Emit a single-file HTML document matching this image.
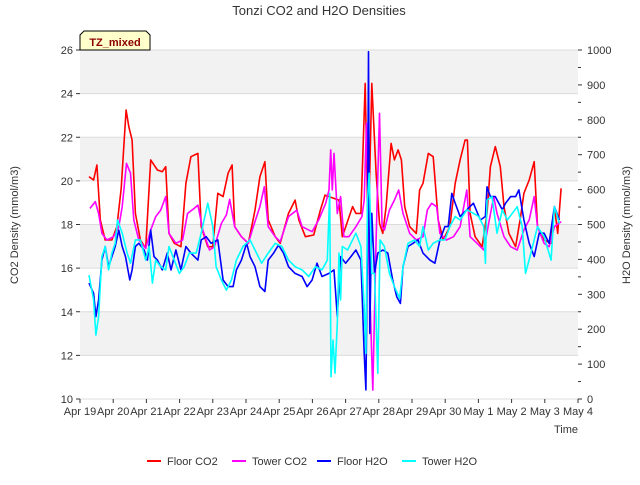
<!DOCTYPE html>
<html><head><meta charset="utf-8"><style>
body{margin:0;background:#fff;font-family:"Liberation Sans","DejaVu Sans",sans-serif}
</style></head><body>
<svg id="chart" width="640" height="480" xmlns="http://www.w3.org/2000/svg" font-family="Liberation Sans, DejaVu Sans, sans-serif">
<rect width="640" height="480" fill="#fff"/>
<g id="bands"></g><g id="grid"></g><g id="series"></g><g id="axes"></g>
<text x="319" y="15" text-anchor="middle" font-size="13" fill="#333">Tonzi CO2 and H2O Densities</text>
<text x="566" y="433" text-anchor="middle" font-size="11" fill="#333">Time</text>
<text transform="translate(18,225) rotate(-90)" text-anchor="middle" font-size="11" fill="#333">CO2 Density (mmol/m3)</text>
<text transform="translate(630,225) rotate(-90)" text-anchor="middle" font-size="11" fill="#333">H2O Density (mmol/m3)</text>
<g>
<path d="M80,50 L80,35 L84,31 L146,31 L150,35 L150,50 Z" fill="#ffffcc" stroke="#000" stroke-width="1"/>
<text x="115" y="46" text-anchor="middle" font-size="11" font-weight="bold" fill="#8b0000">TZ_mixed</text>
</g>
<g id="legend"></g>
</svg>
<script>
const xTickLabels=["Apr 19","Apr 20","Apr 21","Apr 22","Apr 23","Apr 24","Apr 25","Apr 26","Apr 27","Apr 28","Apr 29","Apr 30","May 1","May 2","May 3","May 4"];
const co2Ticks=[10,12,14,16,18,20,22,24,26];
const h2oTicks=[0,100,200,300,400,500,600,700,800,900,1000];
const floorCO2Days=[0.27,0.41,0.51,0.61,0.76,0.96,1.11,1.24,1.39,1.47,1.57,1.67,1.82,1.98,2.13,2.33,2.48,2.58,2.68,2.84,3.04,3.19,3.34,3.55,3.65,3.85,4.0,4.15,4.31,4.46,4.58,4.66,4.86,5.07,5.27,5.42,5.57,5.67,5.88,6.03,6.28,6.48,6.59,6.79,7.04,7.24,7.38,7.5,7.8,7.9,8.21,8.31,8.46,8.59,8.68,8.79,8.92,9.02,9.12,9.22,9.37,9.47,9.58,9.68,9.78,9.93,10.13,10.23,10.33,10.49,10.64,10.79,10.94,11.14,11.3,11.45,11.6,11.67,11.75,11.9,12.11,12.26,12.36,12.51,12.66,12.77,12.92,13.12,13.27,13.37,13.53,13.68,13.78,13.98,14.19,14.29,14.39,14.49];
const floorCO2=[20.19,20.04,20.73,18.21,17.29,17.29,17.9,19.66,23.25,22.49,21.87,18.51,17.29,16.91,20.96,20.5,20.42,20.65,17.59,17.14,16.98,19.89,21.11,21.26,17.9,16.98,16.98,19.43,19.28,20.35,20.73,17.9,17.44,17.14,18.66,20.19,20.88,18.21,17.44,17.14,18.51,19.12,18.21,17.44,17.52,18.66,19.35,19.28,19.12,17.44,18.82,18.51,18.51,24.47,17.29,24.47,20.35,18.05,17.59,18.82,21.72,20.96,21.42,20.96,18.82,17.9,17.59,19.58,19.89,21.26,21.11,18.21,17.29,17.9,19.89,20.96,21.87,21.87,18.51,17.44,16.98,18.51,20.65,21.57,20.65,18.82,17.59,16.98,18.36,19.43,20.04,20.88,17.9,17.29,17.14,18.82,17.59,19.66];
const towerCO2Days=[0.3,0.46,0.56,0.66,0.81,1.01,1.17,1.27,1.4,1.52,1.62,1.77,1.98,2.13,2.28,2.43,2.58,2.68,2.89,3.09,3.24,3.44,3.55,3.7,3.9,4.05,4.26,4.41,4.51,4.66,4.86,5.07,5.22,5.42,5.55,5.67,5.88,6.03,6.28,6.53,6.69,6.99,7.19,7.4,7.5,7.55,7.6,7.65,7.75,7.85,7.95,8.1,8.31,8.49,8.56,8.63,8.71,8.82,8.92,9.02,9.1,9.17,9.32,9.47,9.6,9.73,9.93,10.13,10.33,10.46,10.59,10.74,10.84,11.04,11.25,11.45,11.65,11.75,11.96,12.16,12.31,12.46,12.56,12.77,12.97,13.17,13.37,13.53,13.68,13.78,13.98,14.13,14.29,14.49];
const towerCO2=[18.74,19.05,18.51,17.59,17.29,17.44,17.9,18.82,20.8,20.35,18.21,17.29,16.91,17.75,18.36,18.66,19.28,17.59,17.14,17.29,18.51,18.74,18.89,17.75,16.83,16.98,18.05,18.44,19.15,17.9,17.44,17.14,17.9,18.82,19.73,17.9,17.44,17.21,18.36,18.66,17.9,17.67,18.21,18.97,19.58,21.42,19.58,21.26,18.51,19.28,17.44,17.44,17.9,18.36,19.12,22.64,15.76,10.41,17.29,23.1,17.9,17.75,18.66,19.12,19.58,18.51,17.59,17.29,17.44,18.66,18.97,18.82,17.59,17.29,17.44,17.9,19.58,17.44,17.14,16.83,18.05,19.28,18.51,17.44,16.98,16.83,17.75,18.21,19.28,17.9,17.14,16.98,17.9,18.13];
const floorH2ODays=[0.27,0.41,0.48,0.56,0.66,0.76,0.86,0.96,1.06,1.17,1.27,1.37,1.5,1.57,1.67,1.77,1.93,2.03,2.13,2.23,2.33,2.48,2.63,2.74,2.89,3.04,3.19,3.34,3.55,3.65,3.8,3.95,4.15,4.31,4.46,4.61,4.71,4.86,5.02,5.12,5.27,5.42,5.57,5.67,5.83,5.98,6.13,6.28,6.48,6.69,6.84,6.99,7.14,7.29,7.5,7.65,7.75,7.85,8.0,8.16,8.31,8.46,8.56,8.61,8.66,8.69,8.73,8.79,8.87,8.97,9.12,9.27,9.42,9.54,9.65,9.73,9.88,10.03,10.18,10.33,10.54,10.69,10.84,10.99,11.09,11.2,11.3,11.45,11.65,11.85,12.06,12.21,12.26,12.36,12.51,12.72,12.82,12.97,13.12,13.22,13.37,13.53,13.68,13.83,13.98,14.13,14.29,14.44];
const floorH2O=[332,303,236,284,398,437,379,408,437,484,437,408,341,370,437,446,427,398,484,408,398,370,418,370,427,370,437,418,398,456,465,446,456,341,322,322,370,398,446,408,379,322,308,398,418,441,418,379,360,351,322,341,389,351,360,370,236,408,389,408,427,398,131,26,456,995,188,532,360,418,427,418,341,293,274,379,437,446,456,418,398,389,456,494,494,589,561,523,542,561,513,523,608,580,580,542,561,580,580,599,513,446,408,475,475,446,551,513];
const towerH2ODays=[0.27,0.41,0.48,0.56,0.66,0.76,0.86,0.96,1.06,1.13,1.27,1.42,1.52,1.67,1.82,1.98,2.08,2.18,2.28,2.43,2.58,2.68,2.84,2.99,3.14,3.29,3.5,3.65,3.85,4.0,4.1,4.26,4.41,4.56,4.71,4.91,5.12,5.27,5.47,5.67,5.88,6.08,6.28,6.48,6.69,6.89,7.09,7.29,7.45,7.52,7.56,7.62,7.68,7.75,7.8,7.85,7.9,8.06,8.21,8.31,8.46,8.56,8.61,8.66,8.71,8.79,8.87,8.97,9.04,9.17,9.32,9.47,9.63,9.73,9.88,10.08,10.23,10.33,10.49,10.64,10.84,10.99,11.14,11.3,11.45,11.65,11.85,12.01,12.16,12.21,12.26,12.41,12.56,12.72,12.87,13.02,13.17,13.32,13.42,13.58,13.78,13.98,14.19,14.29,14.44];
const towerH2O=[355,284,183,236,408,437,370,418,446,513,475,418,389,456,456,398,437,332,398,379,370,437,398,360,379,418,418,475,561,494,379,341,312,341,398,437,456,427,389,418,446,437,398,379,370,351,379,370,398,589,64,169,74,217,418,284,437,427,456,475,437,265,131,570,647,360,360,74,456,437,360,322,288,379,446,456,437,494,427,446,456,456,494,523,513,542,532,523,494,389,570,580,475,542,513,532,551,494,360,418,494,465,398,551,503];

const L=80,R=578,T=50,B=399,NS="http://www.w3.org/2000/svg";
const xS=d=>L+d*(R-L)/15;
const yCO2=v=>B-(v-10)*(B-T)/16;
const yH2O=v=>B-v*(B-T)/1000;
function mk(tag,attrs,parent){const e=document.createElementNS(NS,tag);for(const k in attrs)e.setAttribute(k,attrs[k]);document.getElementById(parent).appendChild(e);return e;}
for(let i=0;i<co2Ticks.length-1;i++){
  if(co2Ticks[i]%4===0){
    const b=mk('rect',{x:L,y:yCO2(co2Ticks[i]+2),width:R-L,height:yCO2(co2Ticks[i])-yCO2(co2Ticks[i]+2),fill:'#f2f2f2'},'bands');
    
    
  }
}
co2Ticks.forEach(v=>{
  const g=mk('line',{x1:L,x2:R,y1:yCO2(v),y2:yCO2(v),stroke:'#dcdcdc','stroke-width':1},'grid');
  
  
  const t=mk('line',{x1:L-4,x2:L,y1:yCO2(v),y2:yCO2(v),stroke:'#333'},'axes');
  
  
  const tx=mk('text',{x:L-7,y:yCO2(v)+4,'text-anchor':'end','font-size':11,fill:'#333'},'axes');
  tx.textContent=v;
  
  
});
h2oTicks.forEach(v=>{
  const t=mk('line',{x1:R,x2:R+4,y1:yH2O(v),y2:yH2O(v),stroke:'#333'},'axes');
  
  
  if(v<1000){const m=mk('line',{x1:R,x2:R+3,y1:yH2O(v+50),y2:yH2O(v+50),stroke:'#333'},'axes');
  
  }
  const tx=mk('text',{x:R+9,y:yH2O(v)+4,'font-size':11,fill:'#333'},'axes');
  tx.textContent=v;
  
  
});
xTickLabels.forEach((s,i)=>{
  const t=mk('line',{x1:xS(i),x2:xS(i),y1:B,y2:B+4,stroke:'#333'},'axes');
  
  
  const tx=mk('text',{x:xS(i),y:B+16,'text-anchor':'middle','font-size':11,fill:'#333'},'axes');
  tx.textContent=s;
  
  
});
function line(days,vals,ys,color,name){
  const d=days.map((t,i)=>(i?'L':'M')+xS(t).toFixed(1)+','+ys(vals[i]).toFixed(1)).join(' ');
  const p=mk('path',{d:d,fill:'none',stroke:color,'stroke-width':1.6,'stroke-linejoin':'round'},'series');
  
  
}
line(floorCO2Days,floorCO2,yCO2,'#ff0000','floor-co2-line');
line(towerCO2Days,towerCO2,yCO2,'#ff00ff','tower-co2-line');
line(floorH2ODays,floorH2O,yH2O,'#0000ff','floor-h2o-line');
line(towerH2ODays,towerH2O,yH2O,'#00ffff','tower-h2o-line');
const legendNames=["Floor CO2","Tower CO2","Floor H2O","Tower H2O"];
const legendColors=["#ff0000","#ff00ff","#0000ff","#00ffff"];
const legendX=[147,232,317,402];
legendNames.forEach((n,i)=>{
  const l=mk('line',{x1:legendX[i],x2:legendX[i]+14,y1:461,y2:461,stroke:legendColors[i],'stroke-width':2},'legend');
  
  
  const t=mk('text',{x:legendX[i]+20,y:465,'font-size':11,fill:'#333'},'legend');
  t.textContent=n;
  
  
});
</script>
</body></html>
